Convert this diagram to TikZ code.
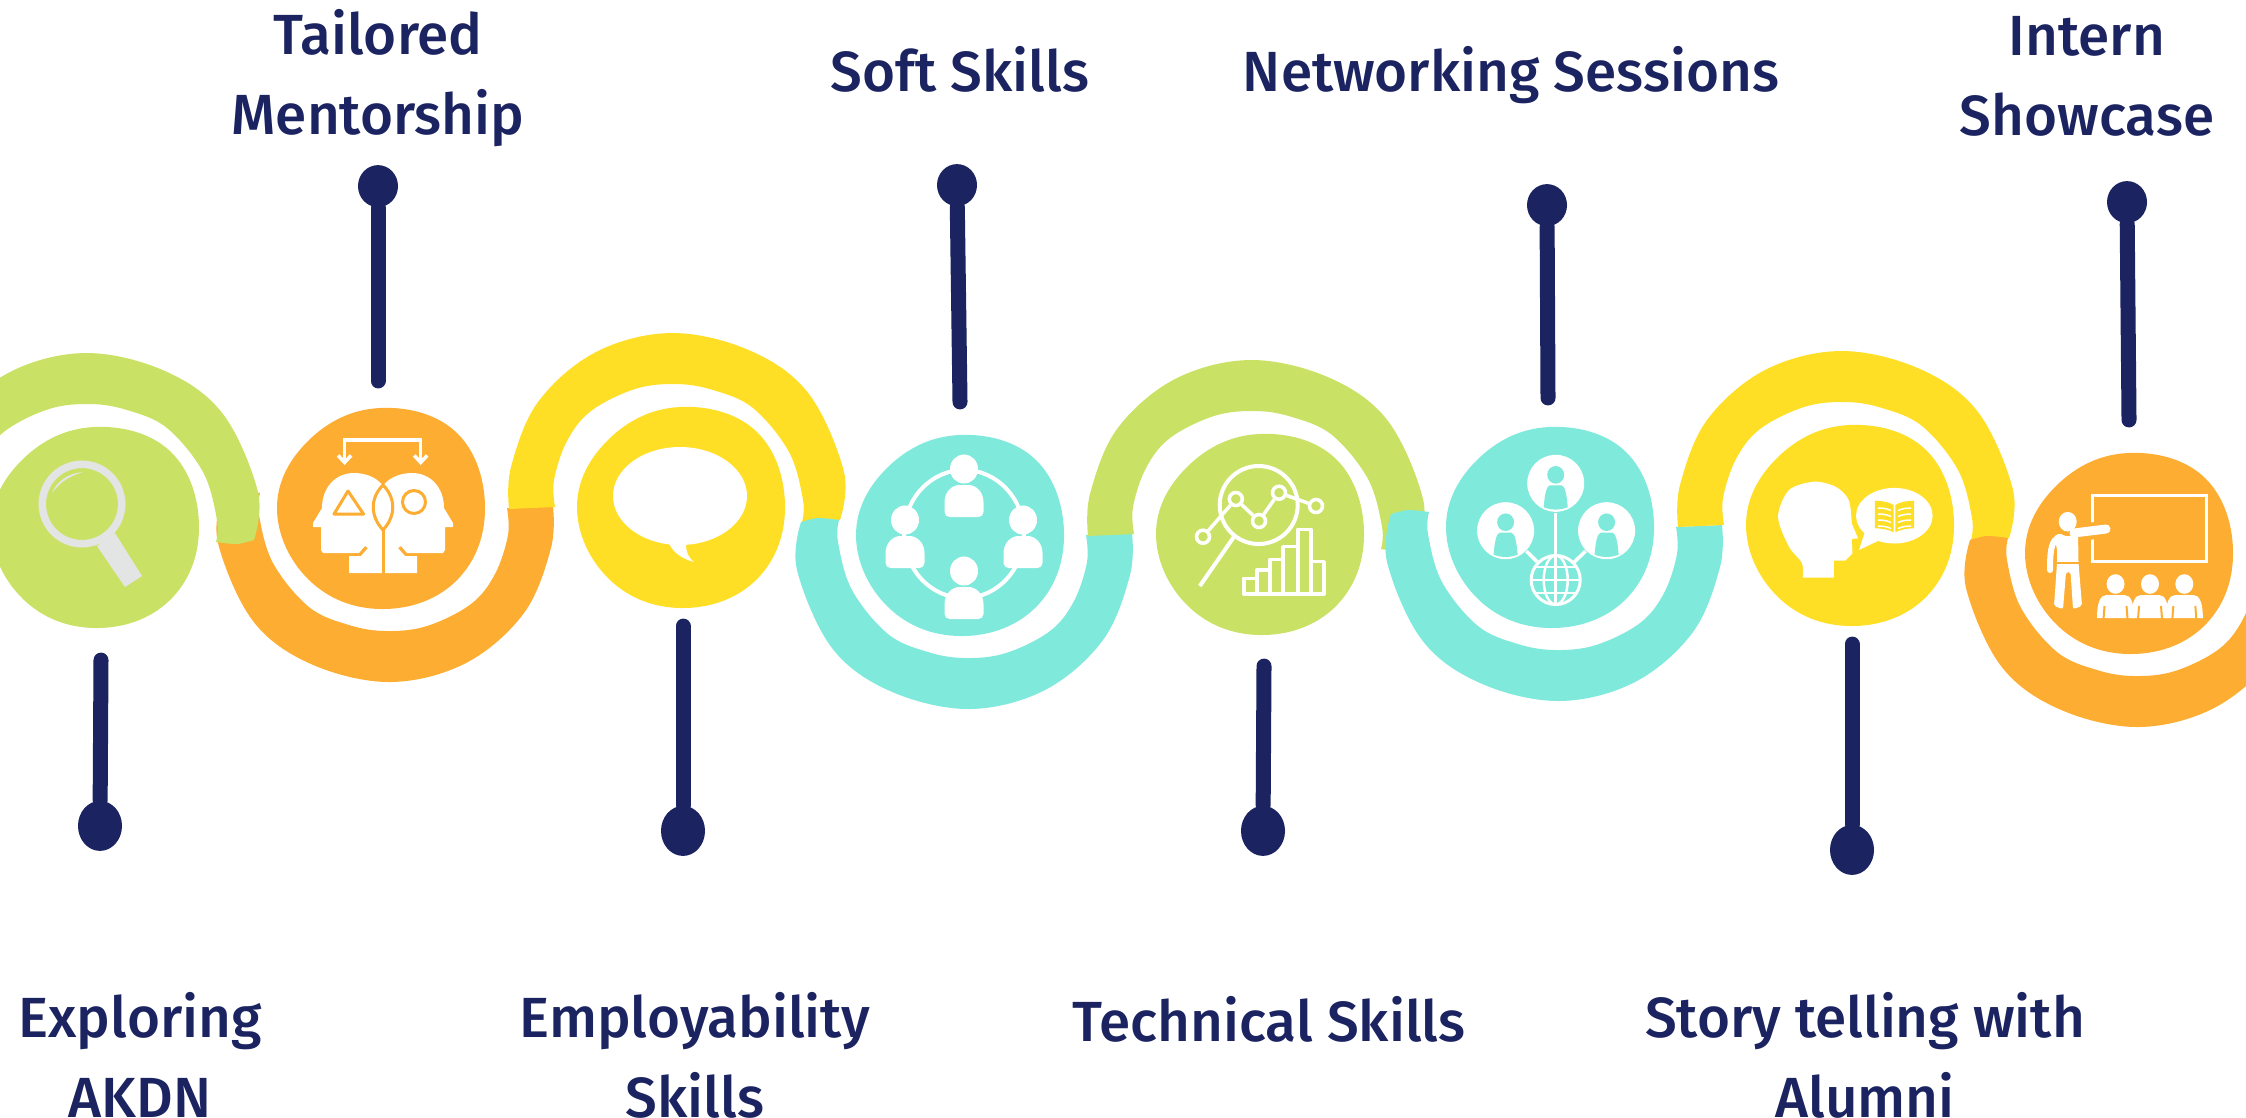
\documentclass[tikz,border=0pt]{standalone}
\usepackage{fontspec}
\setmainfont{Fira Sans}[BoldFont={Fira Sans Medium}]
\usetikzlibrary{positioning}
\usetikzlibrary{arrows.meta,shapes.geometric}
\definecolor{limeband}{HTML}{C9E265}
\definecolor{amberband}{HTML}{FCAD32}
\definecolor{sunband}{HTML}{FFDE26}
\definecolor{tealband}{HTML}{7FE9DC}
\definecolor{inkblue}{HTML}{1B2461}
\definecolor{lensgrey}{HTML}{E3E5E4}
\tikzset{
  caption/.style={text=inkblue, font=\bfseries\fontsize{16.1}{22.76}\selectfont, align=center, inner sep=0pt},
  pinhead/.style={ellipse, fill=inkblue, minimum width=.40cm, minimum height=.42cm, inner sep=0pt},
  bigpinhead/.style={ellipse, fill=inkblue, minimum width=.44cm, minimum height=.50cm, inner sep=0pt},
  pinstem/.style={draw=inkblue, line width=.15cm, line cap=round},
  stemend/.style={coordinate},
  thinwhite/.style={draw=white, line width=.035cm},
  graphdot/.style={circle, draw=white, fill=limeband, line width=.035cm, minimum size=.13cm, inner sep=0pt},
  peerdisc/.style={circle, fill=white, minimum size=.57cm, inner sep=0pt},
  blob/.pic={
    \fill[#1] plot[smooth cycle, tension=.68] coordinates {(-1,-100) (76,-75) (104,2) (74,74) (0,101) (-72,72) (-104,0) (-72,-68)};
  },
  ribbon/.pic={
    \fill[#1] plot[smooth, tension=.6] coordinates {(-172,2) (-170,-40) (-143,-105) (-85,-155) (-9,-174) (70,-156) (128,-113) (163,-35) (159,13)}
      -- plot[smooth] coordinates {(159,13) (142,17) (121,15)}
      -- plot[smooth, tension=.6] coordinates {(121,15) (122,-7) (108,-55) (72,-99) (32,-117) (-5,-123) (-46,-118) (-90,-96) (-114,-66) (-127,-27) (-126,0)} -- cycle;
  },
  circleperson/.pic={
    \fill[white] (0,-16) ellipse [x radius=14, y radius=14.5];
    \fill[white, rounded corners=.05cm] (-19.5,32) -- (-19.5,22) .. controls (-19.5,6) and (-11,0) .. (0,0) .. controls (11,0) and (19.5,6) .. (19.5,22) -- (19.5,32) -- cycle;
  },
  peerbody/.pic={
    \fill[tealband] (0,-8.5) ellipse [x radius=8.5, y radius=8.8];
    \fill[tealband] (-12,24) .. controls (-11,10) and (-9,3) .. (-6,2) -- (6,2) .. controls (9,3) and (11,10) .. (12,24) .. controls (4,27) and (-4,27) .. (-12,24) -- cycle;
  },
  viewer/.pic={
    \fill[white] (0,0) ellipse [x radius=9, y radius=9.8];
    \fill[white] (-18.5,34) .. controls (-18.5,18) and (-15,11) .. (-9,11) -- (9,11) .. controls (15,11) and (18.5,18) .. (18.5,34) -- cycle;
    \draw[amberband, line width=.02cm] (-11,22) -- (-12,35);
    \draw[amberband, line width=.02cm] (11,22) -- (12,35);
  }
}

\begin{document}
\begin{tikzpicture}[x=.01cm, y=-.01cm]
  \useasboundingbox (0,0) rectangle (2246,1117);
  \clip (0,0) rectangle (2246,1117);

  \coordinate(discA) at (95,527);
  \coordinate(discB) at (381,508);
  \coordinate(discC) at (681,507);
  \coordinate(discD) at (960,535);
  \coordinate(discE) at (1260,534);
  \coordinate(discF) at (1550,527);
  \coordinate(discG) at (1850,525);
  \coordinate(discH) at (2129,553);

  \pic[rotate=180] at (discB) {ribbon=amberband};
  \pic at (discA) {ribbon=limeband};
  \pic at (discC) {ribbon=sunband};
  \pic[rotate=180] at (discD) {ribbon=tealband};
  \pic at (discE) {ribbon=limeband};
  \pic[rotate=180] at (discF) {ribbon=tealband};
  \pic at (discG) {ribbon=sunband};
  \pic[rotate=180] at (discH) {ribbon=amberband};

  \pic at (discA) {blob=limeband};
  \pic at (discB) {blob=amberband};
  \pic at (discC) {blob=sunband};
  \pic at (discD) {blob=tealband};
  \pic at (discE) {blob=limeband};
  \pic at (discF) {blob=tealband};
  \pic at (discG) {blob=sunband};
  \pic at (discH) {blob=amberband};

  \node(pinA) [bigpinhead, below=2.73cm of discA, xshift=.05cm] {};
  \node(pinB) [pinhead, above=3.00cm of discB, xshift=-.03cm] {};
  \node(pinC) [bigpinhead, below=2.98cm of discC, xshift=.02cm] {};
  \node(pinD) [pinhead, above=3.28cm of discD, xshift=-.03cm] {};
  \node(pinE) [bigpinhead, below=2.71cm of discE, xshift=.03cm] {};
  \node(pinF) [pinhead, above=3.00cm of discF, xshift=-.03cm] {};
  \node(pinG) [bigpinhead, below=2.99cm of discG, xshift=.02cm] {};
  \node(pinH) [pinhead, above=3.29cm of discH, xshift=-.02cm] {};

  \node(stemA) [stemend, below=1.33cm of discA, xshift=.06cm] {};
  \node(stemB) [stemend, above=1.27cm of discB, xshift=-.03cm] {};
  \node(stemC) [stemend, below=1.19cm of discC, xshift=.02cm] {};
  \node(stemD) [stemend, above=1.33cm of discD] {};
  \node(stemE) [stemend, below=1.32cm of discE, xshift=.04cm] {};
  \node(stemF) [stemend, above=1.29cm of discF, xshift=-.02cm] {};
  \node(stemG) [stemend, below=1.19cm of discG, xshift=.02cm] {};
  \node(stemH) [stemend, above=1.33cm of discH] {};

  \draw[pinstem] (pinA) -- (stemA);
  \draw[pinstem] (pinB) -- (stemB);
  \draw[pinstem] (pinC) -- (stemC);
  \draw[pinstem] (pinD) -- (stemD);
  \draw[pinstem] (pinE) -- (stemE);
  \draw[pinstem] (pinF) -- (stemF);
  \draw[pinstem] (pinG) -- (stemG);
  \draw[pinstem] (pinH) -- (stemH);

  \node(capA) [caption, below=1.395cm of pinA, xshift=.4cm] {Exploring\\AKDN};
  \node(capB) [caption, above=.17cm of pinB] {Tailored\\Mentorship};
  \node(capC) [caption, below=1.345cm of pinC, xshift=.12cm] {Employability\\Skills};
  \node(capD) [caption, above=.70cm of pinD, xshift=.03cm] {Soft Skills};
  \node(capE) [caption, below=1.385cm of pinE, xshift=.06cm] {Technical Skills};
  \node(capF) [caption, above=.79cm of pinF, xshift=-.36cm] {Networking Sessions};
  \node(capG) [caption, below=1.16cm of pinG, xshift=.13cm] {Story telling with\\Alumni};
  \node(capH) [caption, above=.43cm of pinH, xshift=-.4cm] {Intern\\Showcase};

  % magnifier
  \draw[lensgrey, line width=.075cm] (82,504) ellipse [x radius=39.7, y radius=39.7];
  \fill[lensgrey] (97,546) -- (115,533) -- (142,576) -- (125,587) -- cycle;
  \fill[lensgrey] (52,493) .. controls (56,482) and (68,473) .. (83,472) .. controls (70,476) and (60,482) .. (52,493) -- cycle;

  % two heads
  \foreach \s in {1,-1} {
    \begin{scope}[shift={(383,0)}, xscale=\s]
      \fill[white] (0,485) -- (-2.5,483) .. controls (-8,477) and (-18,473) .. (-29,473) .. controls (-48,473) and (-61,488) .. (-61,508) -- (-70,523) -- (-70,527) -- (-62,527) -- (-62,550) -- (-60,553) -- (-24,553) -- (-18,546) -- (-15,548) -- (-22,556) -- (-34,556) -- (-34,573) -- (0,573) -- cycle;
    \end{scope}
  }
  \draw[amberband, line width=.03cm] (383,485) .. controls (370,498) and (370,516) .. (383,530) .. controls (396,516) and (396,498) .. (383,485) -- cycle;
  \draw[amberband, line width=.03cm] (383,530) -- (383,573);
  \draw[amberband, line width=.03cm, line join=round] (348,491) -- (363.5,514) -- (334,514) -- cycle;
  \draw[amberband, line width=.03cm] (414,502) circle [radius=11.5];
  \draw[white, line width=.035cm, {Straight Barb[length=.07cm,width=.13cm]}-{Straight Barb[length=.07cm,width=.13cm]}] (344.6,465) -- (344.6,440) -- (420.7,440) -- (420.7,465);

  % speech bubble
  \fill[white] (680,496) ellipse [x radius=67, y radius=49];
  \fill[white] (669,543) .. controls (673,553) and (683,559) .. (694,562) .. controls (688,557) and (686,552) .. (686,544) -- cycle;

  % people on a ring
  \draw[white, line width=.04cm] (964,534) ellipse [x radius=60, y radius=64];
  \pic at (964,485) {circleperson};
  \pic at (964,587) {circleperson};
  \pic at (905,536) {circleperson};
  \pic at (1023,536) {circleperson};

  % chart under a lens
  \draw[white, line width=.04cm] (1258.7,505) circle [radius=39];
  \draw[white, line width=.04cm] (1234,536.7) -- (1199.8,586);
  \node(dotA) [graphdot] at (1203,536.7) {};
  \node(dotB) [graphdot] at (1235.8,499) {};
  \node(dotC) [graphdot] at (1259,521) {};
  \node(dotD) [graphdot] at (1279,492.7) {};
  \node(dotE) [graphdot] at (1316,506) {};
  \draw[thinwhite] (dotA) -- (dotB);
  \draw[thinwhite] (dotB) -- (dotC);
  \draw[thinwhite] (dotC) -- (dotD);
  \draw[thinwhite] (dotD) -- (dotE);
  \draw[thinwhite, line join=round] (1243.8,594) rectangle (1256.8,578.3);
  \draw[thinwhite, line join=round] (1256.8,594) rectangle (1270.2,570);
  \draw[thinwhite, line join=round] (1270.2,594) rectangle (1282.8,559.3);
  \draw[thinwhite, line join=round] (1282.8,594) rectangle (1298,546.7);
  \draw[thinwhite, line join=round] (1298,594) rectangle (1310.8,529.3);
  \draw[thinwhite, line join=round] (1310.8,594) rectangle (1323.8,561.7);

  % people around a globe
  \node(peerA) [peerdisc] at (1555.7,483.3) {};
  \node(peerB) [peerdisc] at (1505.6,530.7) {};
  \node(peerC) [peerdisc] at (1606.6,530.7) {};
  \node(globe) [circle, draw=white, line width=.03cm, minimum size=.49cm, inner sep=0pt] at (1555.7,580) {};
  \draw[thinwhite] (peerA) -- (globe);
  \draw[thinwhite] (peerB) -- (globe);
  \draw[thinwhite] (peerC) -- (globe);
  \pic at (peerA) {peerbody};
  \pic at (peerB) {peerbody};
  \pic at (peerC) {peerbody};
  \draw[white, line width=.025cm] (globe) ellipse [x radius=12, y radius=24.5];
  \draw[white, line width=.025cm] (1555.7,555.5) -- (1555.7,604.5);
  \draw[white, line width=.025cm] (1531.5,580) -- (1580,580);
  \draw[white, line width=.025cm] (1535,567) -- (1576.5,567);
  \draw[white, line width=.025cm] (1535,593) -- (1576.5,593);

  % head and open book
  \fill[white] plot[smooth] coordinates {(1802.7,577.7) (1802,563) (1789,546.7) (1778,516.7) (1789,490) (1814,481.7) (1835.6,486.7) (1848.7,500) (1851.7,523.3)} -- (1858,538.3) -- (1851.7,539) -- (1852.4,553.3) -- (1845,560.7) -- (1833.8,560.7) -- (1833.8,577.7) -- cycle;
  \fill[white] (1894.3,515.7) ellipse [x radius=38.3, y radius=27.8];
  \fill[white] (1865.5,530) -- (1859,550) -- (1880,540) -- cycle;
  \fill[sunband] (1874.9,500.7) .. controls (1882,500.7) and (1889,502) .. (1893.6,505) -- (1893.6,532.3) .. controls (1889,529.5) and (1882,528.3) .. (1874.9,528.3) -- cycle;
  \fill[sunband] (1914,500.7) .. controls (1907,500.7) and (1900,502) .. (1895.4,505) -- (1895.4,532.3) .. controls (1900,529.5) and (1907,528.3) .. (1914,528.3) -- cycle;
  \foreach \h in {508,514,520,526} {
    \draw[white, line width=.015cm] (1878,\h) .. controls (1882,\h) and (1887,\h+.5) .. (1891,\h+2.5);
    \draw[white, line width=.015cm] (1911,\h) .. controls (1907,\h) and (1902,\h+.5) .. (1898,\h+2.5);
  }

  % teacher at a board
  \draw[white, line width=.03cm] (2092.4,495) rectangle (2206.3,561);
  \draw[amberband, line width=.17cm] (2084,532) -- (2099,530);
  \draw[white, line width=.09cm, line cap=round] (2074,533) -- (2106,529);
  \fill[white] (2067.7,521.7) ellipse [x radius=9, y radius=9.8];
  \fill[white, rounded corners=.02cm] (2053,537) -- (2060,533) -- (2064,536) -- (2071,536) -- (2078,533) -- (2078.5,563) -- (2082,606) -- (2073,609) -- (2070.5,572) -- (2066,572) -- (2063,609) -- (2054,606) -- (2057,563) -- (2057,548) -- cycle;
  \draw[white, line width=.06cm, line cap=round] (2055,540) .. controls (2050,546) and (2050,560) .. (2050,570);
  \draw[amberband, line width=.012cm] (2057,563) -- (2079,563);
  \pic at (2115.5,584) {viewer};
  \pic at (2150,584) {viewer};
  \pic at (2184.3,584) {viewer};
\end{tikzpicture}
\end{document}
